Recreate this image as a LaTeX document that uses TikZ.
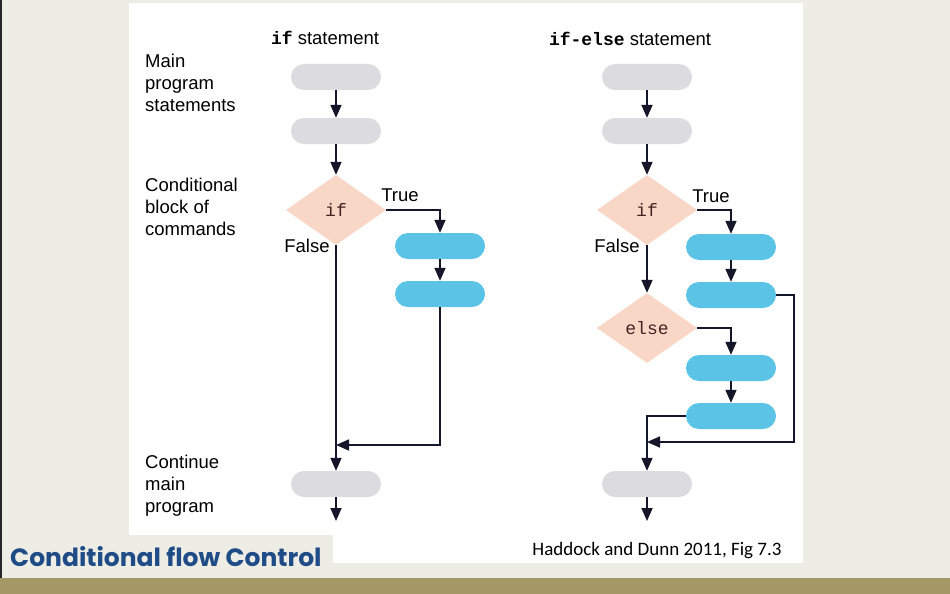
\documentclass[tikz,border=0pt]{standalone}
\usepackage{fontspec}
\setmainfont{Liberation Sans}
\setmonofont{Liberation Mono}
\newfontfamily\titlefont{Poppins}
\newfontfamily\notefont{Carlito}
\usetikzlibrary{shapes.geometric, arrows.meta, positioning, calc}

\definecolor{pagebeige}{RGB}{238, 237, 229}
\definecolor{bandolive}{RGB}{165, 152, 103}
\definecolor{titleblue}{RGB}{31, 75, 135}
\definecolor{pillgray}{RGB}{220, 220, 224}
\definecolor{pillblue}{RGB}{91, 195, 230}
\definecolor{diapeach}{RGB}{249, 215, 199}
\definecolor{flowink}{RGB}{22, 22, 42}
\definecolor{codebrown}{RGB}{70, 35, 35}

\begin{document}
\begin{tikzpicture}[
  x=1pt, y=-1pt,
  graypill/.style={fill=pillgray, rounded corners=13pt, minimum width=90pt, minimum height=26pt, inner sep=0pt},
  bluepill/.style={fill=pillblue, rounded corners=13pt, minimum width=90pt, minimum height=26pt, inner sep=0pt},
  testdia/.style={diamond, fill=diapeach, aspect=1.43, minimum width=100pt, minimum height=70pt, inner sep=0pt, font=\fontsize{18}{20}\selectfont\ttfamily, text=codebrown},
  sidelabel/.style={anchor=west, align=left, font=\fontsize{18.5}{22}\selectfont, inner sep=0pt},
  branchlabel/.style={font=\fontsize{18.5}{20}\selectfont, inner sep=0pt},
  flow/.style={draw=flowink, line width=1.7pt, -{Triangle[length=13pt, width=11pt]}}
]
  % page, band and scanned panel
  \useasboundingbox (0,0) rectangle (950,594);
  \fill[pagebeige] (0,0) rectangle (950,594);
  \fill[bandolive] (0,578) rectangle (950,594);
  \fill[black!85] (0,0) rectangle (2,578);
  \fill[white] (129,3) rectangle (803,535);
  \fill[white] (333,535) rectangle (803,563);

  % headers and side labels
  \node[branchlabel] (lhead) at (325,38) {\textbf{\ttfamily\fontsize{18}{20}\selectfont if} statement};
  \node[branchlabel] (rhead) at (630,39) {\textbf{\ttfamily\fontsize{18}{20}\selectfont if-else} statement};
  \node[sidelabel] (mainlbl) at (145,83) {Main\\program\\statements};
  \node[sidelabel] (condlbl) at (145,207) {Conditional\\block of\\commands};
  \node[sidelabel] (contlbl) at (145,486) {Continue\\main\\program};

  % if statement
  \node[graypill] (lm1) at (336,77) {};
  \node[graypill] (lm2) at (336,131) {};
  \node[testdia] (lif) at (336,210) {if};
  \node[bluepill] (lt1) at (440,246) {};
  \node[bluepill] (lt2) at (440,294) {};
  \node[graypill] (lc) at (336,484) {};
  \coordinate (ljoin) at (336,445);
  \coordinate (lend) at (336,521);
  \node[branchlabel] (ltrue) at (400,195) {True};
  \node[branchlabel] (lfalse) at (307,246) {False};

  \draw[flow] (lm1) -- (lm2);
  \draw[flow] (lm2) -- (lif);
  \draw[flow] (lif.east) -| (lt1);
  \draw[flow] (lt1) -- (lt2);
  \draw[flow] (lt2.south) |- (ljoin);
  \draw[flow] (lif.south) -- (lc);
  \draw[flow] (lc) -- (lend);

  % if-else statement
  \node[graypill] (rm1) at (647,77) {};
  \node[graypill] (rm2) at (647,131) {};
  \node[testdia] (rif) at (647,210) {if};
  \node[bluepill] (rt1) at (731,247) {};
  \node[bluepill] (rt2) at (731,295) {};
  \node[testdia] (relse) at (647,328) {else};
  \node[bluepill] (re1) at (731,368) {};
  \node[bluepill] (re2) at (731,416) {};
  \node[graypill] (rc) at (647,484) {};
  \coordinate (rloop) at (794,442);
  \coordinate (rjoin) at (647,442);
  \coordinate (rend) at (647,521);
  \node[branchlabel] (rtrue) at (711,196) {True};
  \node[branchlabel] (rfalse) at (617,246) {False};

  \draw[flow] (rm1) -- (rm2);
  \draw[flow] (rm2) -- (rif);
  \draw[flow] (rif.east) -| (rt1);
  \draw[flow] (rt1) -- (rt2);
  \draw[flow] (rt2.east) -| (rloop) -- (rjoin);
  \draw[flow] (rif.south) -- (relse);
  \draw[flow] (relse.east) -| (re1);
  \draw[flow] (re1) -- (re2);
  \draw[flow] (re2.west) -| (rc);
  \draw[flow] (rc) -- (rend);

  % footer texts
  \node[anchor=west, inner sep=0pt, text=titleblue, font=\titlefont\bfseries\fontsize{25}{27}\selectfont] (title) at (10,557) {Conditional flow Control};
  \node[inner sep=0pt, font=\notefont\fontsize{19}{22}\selectfont] (source) at (657,551) {Haddock and Dunn 2011, Fig 7.3};
\end{tikzpicture}
\end{document}
